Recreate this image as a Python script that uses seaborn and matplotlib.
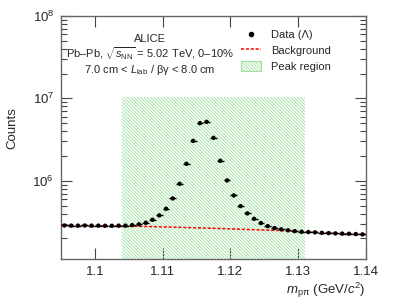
import numpy as np
import pandas as pd
import matplotlib
matplotlib.use("Agg")
import matplotlib.pyplot as plt
import seaborn as sns
from matplotlib.lines import Line2D
from matplotlib.patches import Patch
from matplotlib.ticker import LogLocator, NullLocator

# invariant mass bin centres (GeV/c^2) and counts per bin
mass = [1.0955, 1.0965, 1.0975, 1.0985, 1.0995, 1.1005, 1.1015, 1.1025, 1.1035, 1.1045,
        1.1055, 1.1065, 1.1075, 1.1085, 1.1095, 1.1105, 1.1115, 1.1125, 1.1135, 1.1145,
        1.1155, 1.1165, 1.1175, 1.1185, 1.1195, 1.1205, 1.1215, 1.1225, 1.1235, 1.1245,
        1.1255, 1.1265, 1.1275, 1.1285, 1.1295, 1.1305, 1.1315, 1.1325, 1.1335, 1.1345,
        1.1355, 1.1365, 1.1375, 1.1385, 1.1395]
counts = [2.87e5, 2.86e5, 2.86e5, 2.87e5, 2.86e5, 2.86e5, 2.85e5, 2.85e5, 2.86e5, 2.86e5,
          2.90e5, 2.97e5, 3.10e5, 3.37e5, 3.80e5, 4.58e5, 6.11e5, 9.2e5, 1.61e6, 3.05e6,
          5.0e6, 5.19e6, 3.32e6, 1.75e6, 1.01e6, 6.64e5, 4.93e5, 4.02e5, 3.46e5, 3.07e5,
          2.82e5, 2.67e5, 2.58e5, 2.51e5, 2.45e5, 2.41e5, 2.39e5, 2.37e5, 2.34e5, 2.32e5,
          2.30e5, 2.29e5, 2.28e5, 2.26e5, 2.24e5]
bin_half = 0.0005

# background fit
bg_mass = [1.095, 1.099, 1.103, 1.107, 1.111, 1.115, 1.119, 1.123, 1.127, 1.131, 1.135, 1.14]
bg_counts = [2.87e5, 2.86e5, 2.84e5, 2.80e5, 2.75e5, 2.69e5, 2.63e5, 2.56e5, 2.50e5, 2.40e5, 2.31e5, 2.23e5]

# peak region
peak_lo, peak_hi, peak_top = 1.104, 1.131, 1.05e7

xticks = [1.1, 1.11, 1.12, 1.13, 1.14]
xticklabels = ["1.1", "1.11", "1.12", "1.13", "1.14"]

df = pd.DataFrame({"mass": mass, "counts": counts})
bg = pd.DataFrame({"mass": bg_mass, "counts": bg_counts})

sns.set_style("ticks")
plt.rcParams["font.family"] = ["Liberation Sans", "DejaVu Sans"]
plt.rcParams["mathtext.fontset"] = "custom"
plt.rcParams["mathtext.rm"] = "Liberation Sans"
plt.rcParams["mathtext.it"] = "Liberation Sans:italic"
plt.rcParams["mathtext.sf"] = "Liberation Sans"
plt.rcParams["hatch.linewidth"] = 0.6

fig = plt.figure(figsize=(4.07, 3.06), dpi=100)
ax = fig.add_axes([0.150, 0.153, 0.749, 0.795])

green = "#9ee29e"
hatch = "\\" * 10
ax.fill_between([peak_lo, peak_hi], 1e4, peak_top, facecolor="none",
                edgecolor=green, hatch=hatch, linewidth=0)

sns.lineplot(data=bg, x="mass", y="counts", ax=ax, color="red",
             linestyle=(0, (2, 1.2)), linewidth=1.1, zorder=3)
ax.errorbar(df["mass"], df["counts"], xerr=bin_half, yerr=np.sqrt(df["counts"]),
            fmt="none", ecolor="black", elinewidth=1.0, zorder=4)
sns.scatterplot(data=df, x="mass", y="counts", ax=ax, color="black", s=10,
                edgecolor="none", zorder=5)

ax.set_yscale("log")
ax.set_xlim(1.095, 1.14)
ax.set_ylim(1.12e5, 1e8)
ax.set_xticks(xticks)
ax.set_xticklabels(xticklabels)
ax.xaxis.set_minor_locator(NullLocator())
ax.yaxis.set_major_locator(LogLocator(base=10, numticks=10))
ax.yaxis.set_minor_locator(LogLocator(base=10, subs=np.arange(2, 10), numticks=20))

ax.tick_params(which="both", direction="in", top=True, right=True, labelsize=9.5,
               color="#444444", pad=5)
ax.tick_params(which="major", length=8, width=0.8)
ax.tick_params(which="minor", length=4, width=0.8)
for s in ax.spines.values():
    s.set_color("#666666")
    s.set_linewidth(1.0)

ax.set_xlabel(r"$m_{\rm p\pi}$ (GeV/$c^2$)", fontsize=9.5, loc="right", labelpad=2)
ax.set_ylabel("Counts", fontsize=9.5)
ax.yaxis.set_label_coords(-0.141, 0.54)

tx = 0.292
ax.text(tx, 0.905, "ALICE", transform=ax.transAxes, ha="center", va="center", fontsize=8)
ax.text(tx, 0.843, r"Pb–Pb, $\sqrt{s_{\rm NN}}$ = 5.02 TeV, 0–10%", transform=ax.transAxes,
        ha="center", va="center", fontsize=8)
ax.text(tx, 0.778, r"7.0 cm < $L_{\rm lab}$ / βγ < 8.0 cm", transform=ax.transAxes,
        ha="center", va="center", fontsize=8)

handles = [
    Line2D([], [], marker="o", color="black", linestyle="none", markersize=3),
    Line2D([], [], color="red", linestyle=(0, (2, 1.2)), linewidth=1.1),
    Patch(facecolor="none", edgecolor=green, hatch=hatch, linewidth=0.8),
]
ax.legend(handles, ["Data (Λ)", "Background", "Peak region"], loc="upper left",
          bbox_to_anchor=(0.59, 0.945), frameon=False, fontsize=8, borderpad=0,
          borderaxespad=0, handlelength=1.8, handleheight=1.0, handletextpad=0.9,
          labelspacing=0.45)

fig.savefig("out.png", dpi=100)
